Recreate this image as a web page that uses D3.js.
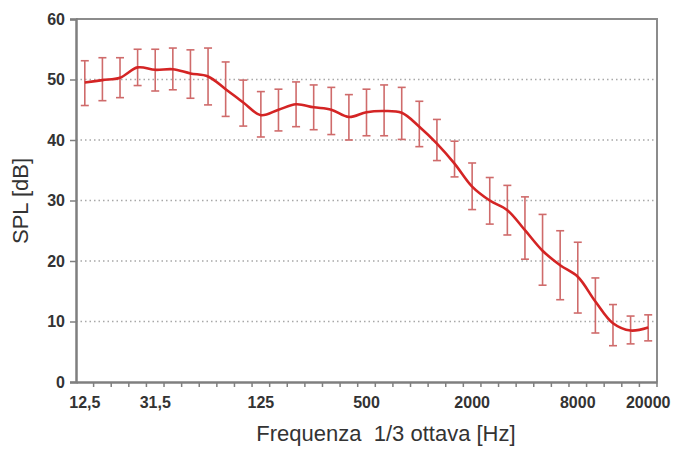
<!DOCTYPE html>
<html lang="it">
<head>
    <meta charset="UTF-8">
    <title>SPL per banda di 1/3 ottava</title>
    <script src="https://d3js.org/d3.v7.min.js"></script>
    <style>
        body { margin: 0; background: #fff; }
        svg { display: block; }
        text { font-family: Arial, "Liberation Sans", sans-serif; }
    </style>
</head>
<body>
    <svg width="687" height="451"></svg>

    <script>
        // 1/3 octave bands (Hz)
        const bands = ["12,5","16","20","25","31,5","40","50","63","80","100","125","160","200","250","315","400",
                       "500","630","800","1000","1250","1600","2000","2500","3150","4000","5000","6300","8000",
                       "10000","12500","16000","20000"];
        const labelledBands = ["12,5","31,5","125","500","2000","8000","20000"];

        // mean SPL and error bar limits (dB)
        const splMean  = [49.5,49.9,50.3,52.0,51.6,51.7,51.0,50.5,48.4,46.2,44.1,45.0,45.9,45.4,45.0,43.8,
                          44.6,44.8,44.5,42.2,39.4,36.1,32.3,30.0,28.4,25.1,21.7,19.3,17.4,13.3,9.7,8.5,9.0];
        const splUpper = [53.1,53.6,53.6,55.0,55.0,55.2,54.9,55.2,52.9,49.9,48.0,48.4,49.6,49.1,48.7,47.5,
                          48.4,49.1,48.7,46.4,43.4,39.8,36.2,33.8,32.5,30.6,27.7,25.0,23.1,17.2,12.8,10.9,11.1];
        const splLower = [45.7,46.5,47.0,49.0,48.1,48.3,46.9,45.8,43.9,42.3,40.5,41.5,42.2,41.7,40.9,40.0,
                          40.7,40.7,40.1,38.9,36.6,33.9,28.5,26.1,24.3,20.3,16.0,13.6,11.4,8.1,6.0,6.3,6.8];
        const yTicks = [0, 10, 20, 30, 40, 50, 60];

        const data = bands.map((b, i) => ({ band: b, mean: splMean[i], hi: splUpper[i], lo: splLower[i] }));

        const svg = d3.select("svg");
        const margin = { top: 19, right: 30, bottom: 69, left: 76 };
        const width = 687 - margin.left - margin.right,
              height = 451 - margin.top - margin.bottom;

        const x = d3.scaleBand().domain(bands).range([0, width]);
        const y = d3.scaleLinear().domain([0, 60]).range([height, 0]);
        const cx = d => x(d.band) + x.bandwidth() / 2;

        const g = svg.append("g").attr("transform", `translate(${margin.left},${margin.top})`);

        // dotted gridlines
        g.append("g")
            .selectAll("line")
            .data(yTicks.filter(t => t > 0 && t < 60))
            .enter().append("line")
            .attr("x1", 0).attr("x2", width)
            .attr("y1", d => y(d)).attr("y2", d => y(d))
            .attr("stroke", "#a8a8a8")
            .attr("stroke-width", 1.5)
            .attr("stroke-dasharray", "1.5,3");

        // frame (top and right)
        g.append("path")
            .attr("d", `M0,${y(60)}H${width}V${height}`)
            .attr("fill", "none")
            .attr("stroke", "#8c8c8c")
            .attr("stroke-width", 2);

        // y axis
        const yAxis = g.append("g")
            .call(d3.axisLeft(y).tickValues(yTicks).tickSize(6).tickPadding(5));
        yAxis.select(".domain").attr("stroke", "#7f7f7f").attr("stroke-width", 2.5);
        yAxis.selectAll(".tick line").attr("stroke", "#7f7f7f").attr("stroke-width", 1.5);
        yAxis.selectAll(".tick text")
            .attr("font-size", "16px").attr("font-weight", "bold").attr("fill", "#333");

        // x axis: labels only on some bands, minor ticks at band edges
        const xAxis = g.append("g")
            .attr("transform", `translate(0,${height})`)
            .call(d3.axisBottom(x).tickValues(labelledBands).tickSize(0).tickPadding(15));
        xAxis.select(".domain").attr("stroke", "#7f7f7f").attr("stroke-width", 2.5);
        xAxis.selectAll(".tick text")
            .attr("font-size", "16px").attr("font-weight", "bold").attr("fill", "#333");

        xAxis.append("g")
            .selectAll("line")
            .data(bands.slice(1).map(b => x(b)).concat([width]))
            .enter().append("line")
            .attr("x1", d => d).attr("x2", d => d)
            .attr("y1", 0).attr("y2", 5)
            .attr("stroke", "#7f7f7f")
            .attr("stroke-width", 1.5);

        // error bars
        const eb = g.append("g")
            .attr("stroke", "#cf6b6b")
            .attr("stroke-width", 1.6)
            .selectAll("g")
            .data(data)
            .enter().append("g");
        eb.append("line")
            .attr("x1", cx).attr("x2", cx)
            .attr("y1", d => y(d.hi)).attr("y2", d => y(d.lo));
        eb.append("line")
            .attr("x1", d => cx(d) - 4).attr("x2", d => cx(d) + 4)
            .attr("y1", d => y(d.hi)).attr("y2", d => y(d.hi));
        eb.append("line")
            .attr("x1", d => cx(d) - 4).attr("x2", d => cx(d) + 4)
            .attr("y1", d => y(d.lo)).attr("y2", d => y(d.lo));

        // smoothed mean line
        const line = d3.line()
            .x(cx)
            .y(d => y(d.mean))
            .curve(d3.curveCatmullRom.alpha(0.5));
        g.append("path")
            .datum(data)
            .attr("d", line)
            .attr("fill", "none")
            .attr("stroke", "#d42424")
            .attr("stroke-width", 2.6);

        // axis titles
        svg.append("text")
            .attr("transform", "translate(28,201) rotate(-90)")
            .attr("text-anchor", "middle")
            .attr("font-size", "22px")
            .attr("fill", "#333")
            .text("SPL [dB]");

        svg.append("text")
            .attr("x", 386)
            .attr("y", 441)
            .attr("text-anchor", "middle")
            .attr("font-size", "22px")
            .attr("fill", "#333")
            .attr("xml:space", "preserve")
            .style("white-space", "pre")
            .text("Frequenza  1/3 ottava [Hz]");
    </script>
</body>
</html>
